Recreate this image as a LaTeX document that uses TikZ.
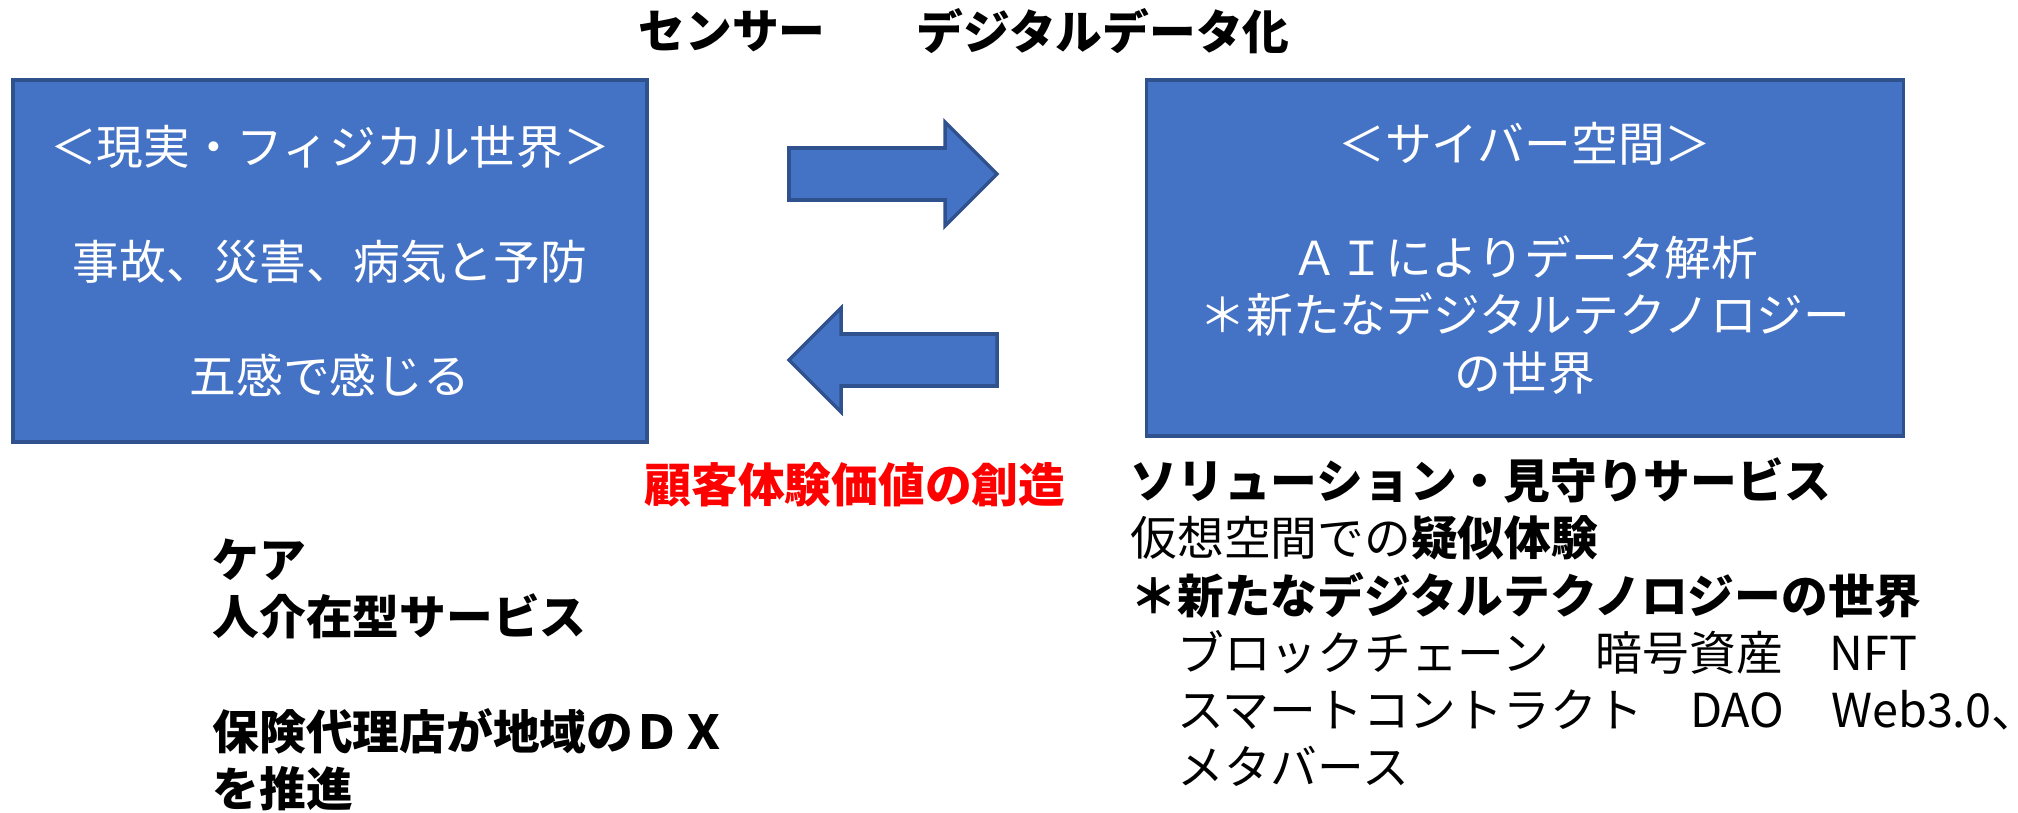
\documentclass[tikz,border=0pt]{standalone}
\usepackage{fontspec}
\setmainfont{Noto Sans CJK JP}
\definecolor{boxblue}{HTML}{4472C4}
\definecolor{boxedge}{HTML}{2F528F}
\tikzset{
  worldbox/.style={draw=boxedge, fill=boxblue, line width=1pt, text=white, align=center, inner sep=0pt},
  blockarrow/.style={draw=boxedge, fill=boxblue, line width=1pt, line join=miter},
  caption/.style={font=\bfseries\fontsize{13.3}{16.3}\selectfont, inner sep=0pt},
  listing/.style={anchor=north west, inner sep=0pt, align=left}
}
\begin{document}
\begin{tikzpicture}[x=0.1mm,y=-0.1mm,font=\fontsize{13.3}{16.3}\selectfont]
\useasboundingbox (0,0) rectangle (2018,813);

\node[caption] (sensor) at (732,31) {センサー};
\node[caption] (digital) at (1103,31) {デジタルデータ化};

\node[worldbox, minimum width=63.4mm, minimum height=36.2mm] (real) at (330,261)
  {＜現実・フィジカル世界＞\\[16.3pt]事故、災害、病気と予防\\[16.3pt]五感で感じる};
\node[worldbox, minimum width=75.7mm, minimum height=35.6mm] (cyber) at (1525,258)
  {＜サイバー空間＞\\[16.3pt]ＡＩによりデータ解析\\＊新たなデジタルテクノロジー\\の世界};

\foreach \yc/\ang in {174/0,360/180}{
  \draw[blockarrow, shift={(893,\yc)}, rotate=\ang]
    (-104,-26) -- (52,-26) -- (52,-52) -- (104,0) -- (52,52) -- (52,26) -- (-104,26) -- cycle;
}

\node[caption, text=red] (value) at (855,485) {顧客体験価値の創造};

\node[listing] (service) at (1130,457)
  {{\bfseries ソリューション・見守りサービス}\\仮想空間での{\bfseries 疑似体験}\\{\bfseries ＊新たなデジタルテクノロジーの世界}\\　ブロックチェーン　暗号資産　NFT\\　スマートコントラクト　DAO　Web3.0\rlap{、}\\　メタバース};

\node[listing, font=\bfseries\fontsize{13.3}{16.3}\selectfont] (care) at (212,538)
  {ケア\\人介在型サービス\\[16.3pt]保険代理店が地域のＤＸ\\を推進};
\end{tikzpicture}
\end{document}
